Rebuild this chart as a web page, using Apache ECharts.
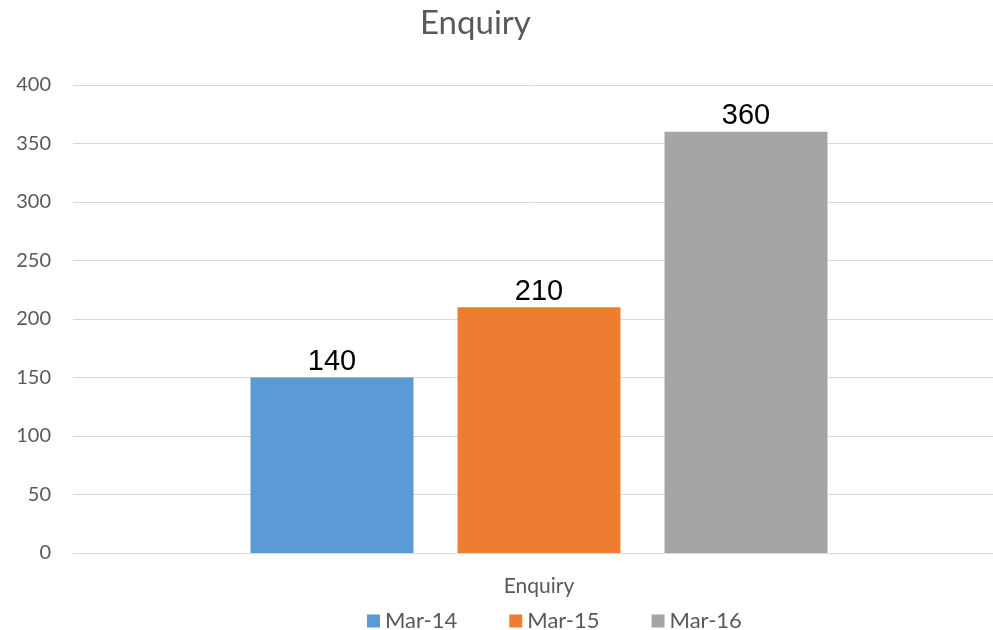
<!DOCTYPE html>
<html>
<head>
<meta charset="utf-8">
<script src="https://cdn.jsdelivr.net/npm/echarts@6/dist/echarts.min.js"></script>
<style>
  html, body { margin: 0; padding: 0; background: #fff; }
  #chart { width: 993px; height: 630px; }
</style>
</head>
<body>
<div id="chart"></div>
<script>
var categories = ['Enquiry']
var seriesNames = ['Mar-14', 'Mar-15', 'Mar-16']
var seriesValues = [[150], [210], [360]]
// data labels as printed on the original chart
var labelTexts = ['140', '210', '360']
var colors = ['#5B9BD5', '#ED7D31', '#A5A5A5']

function BuildSeries() {
  var list = []
  seriesNames.forEach(function (name, i) {
    list.push({
      name: name,
      type: 'bar',
      data: seriesValues[i],
      barWidth: 163,
      barGap: '27%',
      itemStyle: { color: colors[i] },
      label: {
        show: true,
        position: 'top',
        distance: 1,
        color: '#000',
        fontSize: 29,
        fontFamily: 'Liberation Sans',
        formatter: function () { return labelTexts[i] }
      }
    })
  })
  return list
}

function RenderChart() {
  var myChart = echarts.init(document.getElementById('chart'))
  var option = {
    animation: false,
    title: {
      text: 'Enquiry',
      left: 415,
      top: 2,
      textStyle: { fontSize: 33, fontWeight: 'normal', color: '#595959', fontFamily: 'Lato' }
    },
    legend: {
      data: seriesNames,
      left: 362,
      top: 605,
      itemWidth: 13,
      itemHeight: 13,
      itemGap: 52,
      icon: 'rect',
      textStyle: { fontSize: 22, color: '#595959', fontFamily: 'Lato' }
    },
    // plot area runs past the right edge, as in the original
    grid: { left: 73, right: -12, top: 85, bottom: 77, containLabel: false, outerBoundsMode: 'none' },
    xAxis: {
      type: 'category',
      data: categories,
      axisLine: { lineStyle: { color: '#d9d9d9' } },
      axisTick: { show: false },
      axisLabel: { fontSize: 21, color: '#595959', fontFamily: 'Lato', margin: 23 }
    },
    yAxis: {
      type: 'value',
      min: 0,
      max: 400,
      interval: 50,
      axisLine: { show: false },
      axisTick: { show: false },
      splitLine: { lineStyle: { color: '#d9d9d9', width: 1 } },
      axisLabel: { fontSize: 20, color: '#595959', fontFamily: 'Lato', margin: 22 }
    },
    series: BuildSeries()
  }
  myChart.setOption(option)
}

window.onload = RenderChart
</script>
</body>
</html>
